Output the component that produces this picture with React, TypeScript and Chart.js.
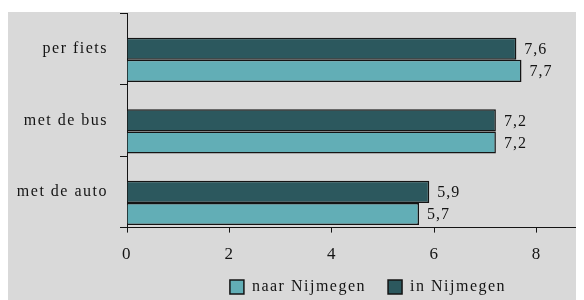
import React, { useEffect, useRef } from 'react';
import { Chart, registerables } from 'chart.js';

Chart.register(...registerables);

const categories = ['per fiets', 'met de bus', 'met de auto'];
const inNijmegen = [7.6, 7.2, 5.9];
const naarNijmegen = [7.7, 7.2, 5.7];
const spacer = [null, null, null];
const xMax = 8.92;
const xStep = 2;

const SERIF = '"Liberation Serif", "Times New Roman", "DejaVu Serif", serif';
const DARK = '#2c585e';
const LIGHT = '#62aeb6';
const INK = '#141414';
const BG = '#d9d9d9';

const spacingPlugin = {
  id: 'letterSpacing',
  beforeUpdate(chart: any) {
    chart.ctx.letterSpacing = '1.5px';
  },
  beforeDraw(chart: any) {
    chart.ctx.letterSpacing = '1.5px';
  },
};

const legendFit = {
  id: 'legendFit',
  beforeLayout(chart: any) {
    const lg = chart.legend;
    if (lg && !lg.__patched) {
      const orig = lg.fit.bind(lg);
      lg.fit = () => {
        orig();
        lg.height = 23;
      };
      lg.__patched = true;
    }
  },
  afterLayout(chart: any) {
    const lg = chart.legend;
    if (lg) {
      lg.left += 72;
      lg.right += 72;
      lg.top = lg.bottom - 43;
    }
  },
};

const valueLabels = {
  id: 'valueLabels',
  afterDatasetsDraw(chart: any) {
    const ctx = chart.ctx;
    ctx.save();
    ctx.letterSpacing = '1px';
    ctx.font = `16px ${SERIF}`;
    ctx.fillStyle = INK;
    ctx.textAlign = 'left';
    ctx.textBaseline = 'middle';
    chart.data.datasets.forEach((ds: any, di: number) => {
      if (ds.isSpacer) return;
      const meta = chart.getDatasetMeta(di);
      meta.data.forEach((el: any, i: number) => {
        const v = ds.data[i];
        if (v == null) return;
        ctx.fillText(v.toFixed(1).replace('.', ','), el.x + 8, el.y + 1);
      });
    });
    ctx.restore();
  },
};

export default function App() {
  const ref = useRef<HTMLCanvasElement>(null);
  useEffect(() => {
    if (!ref.current) return;
    const chart = new Chart(ref.current, {
      type: 'bar',
      data: {
        labels: categories,
        datasets: [
          {
            label: '',
            data: spacer as any,
            isSpacer: true,
            backgroundColor: 'rgba(0,0,0,0)',
            borderWidth: 0,
          } as any,
          {
            label: 'in Nijmegen',
            data: inNijmegen,
            backgroundColor: DARK,
            borderColor: INK,
            borderWidth: 1.5,
          },
          {
            label: 'naar Nijmegen',
            data: naarNijmegen,
            backgroundColor: LIGHT,
            borderColor: INK,
            borderWidth: 1.5,
          },
        ],
      },
      options: {
        indexAxis: 'y',
        animation: false,
        responsive: false,
        maintainAspectRatio: false,
        layout: { padding: { top: 1, left: 0, right: 0, bottom: 0 } },
        datasets: { bar: { categoryPercentage: 0.93, barPercentage: 1 } },
        scales: {
          x: {
            min: 0,
            max: xMax,
            border: { display: true, color: INK, width: 1 },
            grid: { display: true, drawOnChartArea: false, drawTicks: true, tickLength: 5, color: INK },
            ticks: {
              stepSize: xStep,
              includeBounds: false,
              color: INK,
              font: { family: SERIF, size: 17 },
              padding: 12,
            },
          },
          y: {
            border: { display: true, color: INK, width: 1 },
            grid: { display: true, drawOnChartArea: false, drawTicks: true, tickLength: 7, color: INK, offset: true },
            ticks: { color: INK, font: { family: SERIF, size: 16 }, padding: 12 },
            afterFit: (s: any) => {
              s.width = 119;
              s.paddingTop = 0;
              s.paddingBottom = 0;
            },
          },
        },
        plugins: {
          legend: {
            position: 'bottom',
            reverse: true,
            labels: {
              filter: (item: any) => item.text !== '',
              boxWidth: 14,
              boxHeight: 14,
              padding: 22,
              color: INK,
              font: { family: SERIF, size: 16 },
            },
          },
          tooltip: { enabled: false },
        },
      },
      plugins: [spacingPlugin, legendFit, valueLabels],
    });
    return () => chart.destroy();
  }, []);
  return (
    <div style={{ paddingTop: 4 }}>
      <canvas ref={ref} width={576} height={288} style={{ display: 'block', background: BG }} />
    </div>
  );
}
